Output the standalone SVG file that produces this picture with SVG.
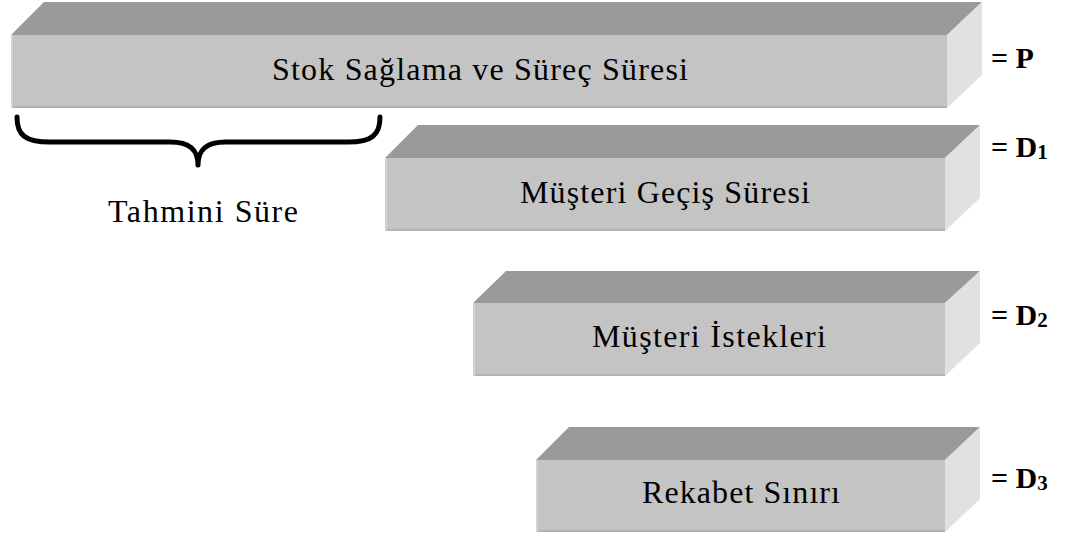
<svg xmlns="http://www.w3.org/2000/svg" width="1077" height="541" viewBox="0 0 1077 541">
<style>
.top{fill:#9a9a9a}
.front{fill:#c4c4c4}
.side{fill:#e1e1e1}
.edge{fill:#b3b3b3}
.ledge{fill:#d2d2d2}
.lbl{font-family:"Liberation Serif","Times New Roman",serif;font-size:32px;fill:#000;text-anchor:middle}
.eq{font-family:"Liberation Serif","Times New Roman",serif;font-size:30px;font-weight:bold;fill:#000}
.sub{font-size:21px}
</style>
<rect width="1077" height="541" fill="#fff"/>
<g id="box-p">
<polygon class="top" points="11,35 44,2 982,2 947,35"/>
<polygon class="side" points="947,35 982,2 982,75 947,108"/>
<rect class="front" x="11" y="35" width="936" height="73"/>
<rect class="edge" x="11" y="106" width="936" height="2"/>
<rect class="ledge" x="11" y="35" width="2" height="73"/>
<text class="lbl" x="480" y="80" textLength="416" lengthAdjust="spacing">Stok Sağlama ve Süreç Süresi</text>
</g>
<g id="box-d1">
<polygon class="top" points="385,158 418,125 980,125 945,158"/>
<polygon class="side" points="945,158 980,125 980,198 945,231"/>
<rect class="front" x="385" y="158" width="560" height="73"/>
<rect class="edge" x="385" y="229" width="560" height="2"/>
<rect class="ledge" x="385" y="158" width="2" height="73"/>
<text class="lbl" x="665" y="203" textLength="290" lengthAdjust="spacing">Müşteri Geçiş Süresi</text>
</g>
<g id="box-d2">
<polygon class="top" points="473,303 506,271 980,271 945,303"/>
<polygon class="side" points="945,303 980,271 980,343 945,376"/>
<rect class="front" x="473" y="303" width="472" height="73"/>
<rect class="edge" x="473" y="374" width="472" height="2"/>
<rect class="ledge" x="473" y="303" width="2" height="73"/>
<text class="lbl" x="709" y="347" textLength="234" lengthAdjust="spacing">Müşteri İstekleri</text>
</g>
<g id="box-d3">
<polygon class="top" points="536,460 569,427 980,427 945,460"/>
<polygon class="side" points="945,460 980,427 980,499 945,532"/>
<rect class="front" x="536" y="460" width="409" height="72"/>
<rect class="edge" x="536" y="530" width="409" height="2"/>
<rect class="ledge" x="536" y="460" width="2" height="72"/>
<text class="lbl" x="741" y="503" textLength="198" lengthAdjust="spacing">Rekabet Sınırı</text>
</g>
<g id="brace">
<path d="M17,117 C17,135 25,142 50,142 L170,142 C190,142 198,150 198,165 C198,150 206,142 226,142 L348,142 C372,142 380,135 380,117" fill="none" stroke="#000" stroke-width="5" stroke-linecap="round" stroke-linejoin="round"/>
<text class="lbl" x="203" y="222" textLength="190" lengthAdjust="spacing">Tahmini Süre</text>
</g>
<g id="labels">
<text class="eq" x="991" y="68">= P</text>
<text class="eq" x="991" y="157">= D<tspan class="sub" dy="2">1</tspan></text>
<text class="eq" x="991" y="325">= D<tspan class="sub" dy="2">2</tspan></text>
<text class="eq" x="991" y="488">= D<tspan class="sub" dy="2">3</tspan></text>
</g>
</svg>
